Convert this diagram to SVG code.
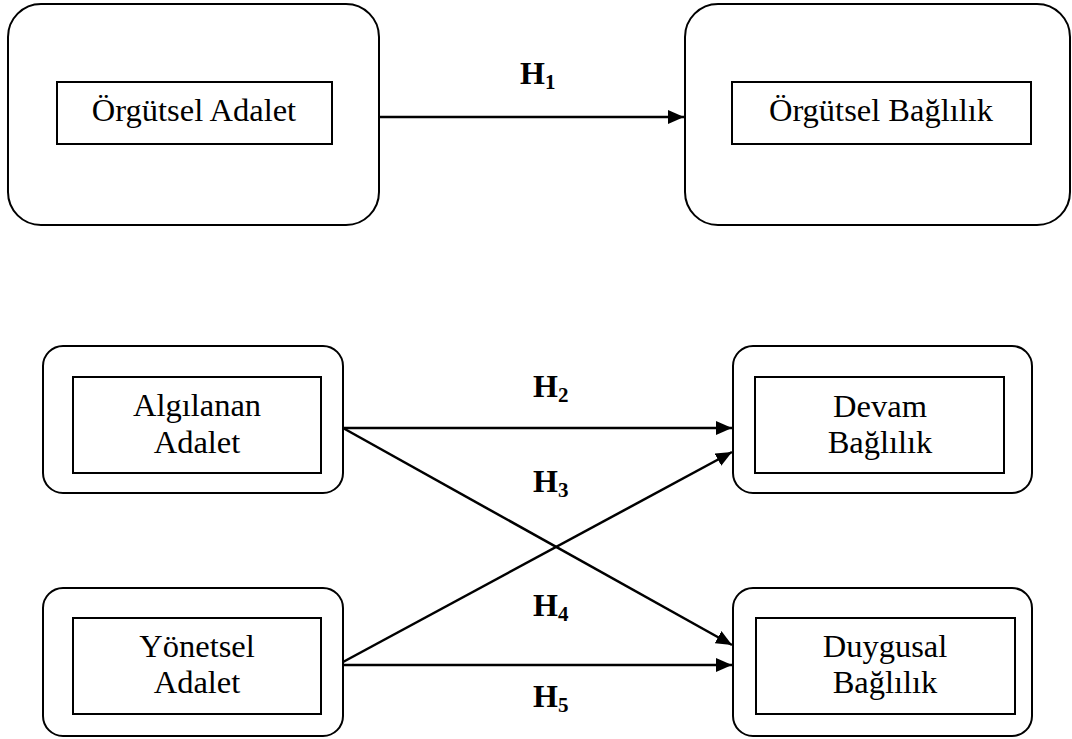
<svg xmlns="http://www.w3.org/2000/svg" width="1072" height="739" viewBox="0 0 1072 739">
<style>
.outer{fill:#fff;stroke:#000;stroke-width:2}
.inner{fill:#fff;stroke:#000;stroke-width:2}
.t{font-family:"Liberation Serif","Times New Roman",serif;font-size:32.5px;fill:#000;text-anchor:middle}
.h{font-family:"Liberation Serif","Times New Roman",serif;font-size:32px;font-weight:bold;fill:#000}
.h tspan{font-size:21px}
.c{stroke:#000;stroke-width:2.5;fill:none;marker-end:url(#ah)}
</style>
<defs>
<marker id="ah" markerWidth="16" markerHeight="14" refX="16" refY="7" orient="auto" markerUnits="userSpaceOnUse">
<path d="M0,0 L16,7 L0,14 Z" fill="#000"/>
</marker>
</defs>
<rect width="1072" height="739" fill="#fff"/>
<g id="connectors">
<line class="c" x1="379" y1="117" x2="684" y2="117"/>
<line class="c" x1="343" y1="428" x2="732" y2="428"/>
<line class="c" x1="343" y1="428" x2="732" y2="645"/>
<line class="c" x1="343" y1="662" x2="732" y2="452"/>
<line class="c" x1="343" y1="665" x2="732" y2="665"/>
<text class="h" x="520" y="84">H<tspan dy="5">1</tspan></text>
<text class="h" x="533" y="397">H<tspan dy="5">2</tspan></text>
<text class="h" x="533" y="492">H<tspan dy="5">3</tspan></text>
<text class="h" x="533" y="616">H<tspan dy="5">4</tspan></text>
<text class="h" x="533" y="707">H<tspan dy="5">5</tspan></text>
</g>
<g id="orgutsel-adalet">
<rect class="outer" x="8" y="4" width="371" height="221" rx="33"/>
<rect class="inner" x="57" y="82" width="275" height="62"/>
<text class="t" x="194" y="121">Örgütsel Adalet</text>
</g>
<g id="orgutsel-baglilik">
<rect class="outer" x="685" y="4" width="385" height="221" rx="33"/>
<rect class="inner" x="732" y="82" width="299" height="62"/>
<text class="t" x="881" y="121">Örgütsel Bağlılık</text>
</g>
<g id="algilanan-adalet">
<rect class="outer" x="43" y="346" width="300" height="147" rx="20"/>
<rect class="inner" x="73" y="377" width="248" height="96"/>
<text class="t" x="197" y="416">Algılanan</text>
<text class="t" x="197" y="453">Adalet</text>
</g>
<g id="yonetsel-adalet">
<rect class="outer" x="43" y="588" width="300" height="148" rx="20"/>
<rect class="inner" x="73" y="618" width="248" height="96"/>
<text class="t" x="197" y="657">Yönetsel</text>
<text class="t" x="197" y="693">Adalet</text>
</g>
<g id="devam-baglilik">
<rect class="outer" x="733" y="346" width="299" height="147" rx="20"/>
<rect class="inner" x="755" y="377" width="249" height="96"/>
<text class="t" x="880" y="417">Devam</text>
<text class="t" x="880" y="453">Bağlılık</text>
</g>
<g id="duygusal-baglilik">
<rect class="outer" x="733" y="588" width="299" height="148" rx="20"/>
<rect class="inner" x="756" y="618" width="259" height="96"/>
<text class="t" x="885" y="657">Duygusal</text>
<text class="t" x="885" y="693">Bağlılık</text>
</g>
</svg>
